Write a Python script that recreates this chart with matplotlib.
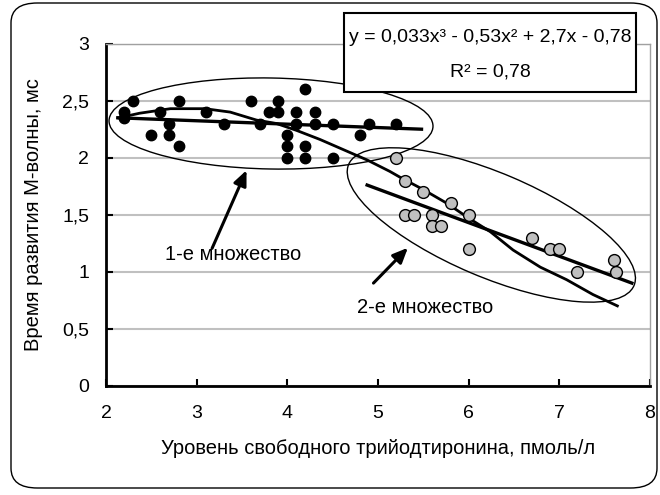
import matplotlib
matplotlib.use("Agg")
import matplotlib.pyplot as plt
from matplotlib.patches import Ellipse, FancyBboxPatch, Rectangle
from matplotlib.transforms import ScaledTranslation
from matplotlib.ticker import FuncFormatter

plt.rcParams['font.family'] = ['Liberation Sans', 'DejaVu Sans']

# Set 1 (black points)
set1_x = [2.2, 2.2, 2.3, 2.5, 2.6, 2.7, 2.7, 2.8, 2.8, 3.1, 3.3, 3.6, 3.7, 3.8, 3.9, 3.9,
          4.0, 4.0, 4.0, 4.1, 4.1, 4.2, 4.2, 4.2, 4.3, 4.3, 4.5, 4.5, 4.8, 4.9, 5.2]
set1_y = [2.4, 2.35, 2.5, 2.2, 2.4, 2.3, 2.2, 2.5, 2.1, 2.4, 2.3, 2.5, 2.3, 2.4, 2.5, 2.4,
          2.2, 2.1, 2.0, 2.4, 2.3, 2.6, 2.1, 2.0, 2.4, 2.3, 2.3, 2.0, 2.2, 2.3, 2.3]

# Set 2 (grey points)
set2_x = [5.2, 5.3, 5.5, 5.8, 6.0, 5.3, 5.4, 5.6, 5.6, 5.7, 6.0, 6.7, 6.9, 7.0, 7.2, 7.6, 7.63]
set2_y = [2.0, 1.8, 1.7, 1.6, 1.5, 1.5, 1.5, 1.5, 1.4, 1.4, 1.2, 1.3, 1.2, 1.2, 1.0, 1.1, 1.0]

# Cubic trend line over all points (as drawn)
trend_x = [2.14, 2.37, 2.71, 3.09, 3.37, 3.66, 3.88, 4.10, 4.36, 4.62, 4.88, 5.13, 5.24,
           5.50, 5.76, 6.00, 6.24, 6.49, 6.79, 7.08, 7.37, 7.64]
trend_y = [2.35, 2.39, 2.43, 2.43, 2.40, 2.33, 2.30, 2.24, 2.16, 2.07, 1.98, 1.88, 1.83,
           1.72, 1.60, 1.47, 1.35, 1.19, 1.04, 0.93, 0.80, 0.70]

# Linear trend lines for each set
lin1_x = [2.13, 5.48]
lin1_y = [2.35, 2.25]
lin2_x = [4.88, 7.80]
lin2_y = [1.76, 0.90]

x_ticks = [2, 3, 4, 5, 6, 7, 8]
y_ticks = [0, 0.5, 1, 1.5, 2, 2.5, 3]

equation = "y = 0,033x³ - 0,53x² + 2,7x - 0,78"
r2_text = "R² = 0,78"
xlabel = "Уровень свободного трийодтиронина, пмоль/л"
ylabel = "Время развития М-волны, мс"
label1 = "1-е множество"
label2 = "2-е множество"

fig = plt.figure(figsize=(6.6, 4.95), dpi=100)
fig.patch.set_facecolor('white')

# rounded figure border
border = FancyBboxPatch((11/660, 7/495), 646/660, 485/495,
                        boxstyle="round,pad=0,rounding_size=0.04",
                        transform=fig.transFigure, fill=False, ec='black', lw=1.0)
fig.patches.append(border)

ax = fig.add_axes([106/660, 1 - 385.7/495, 544/660, 342/495])
ax.set_xlim(2, 8)
ax.set_ylim(0, 3)
ax.set_xticks(x_ticks)
ax.set_yticks(y_ticks)
fmt = FuncFormatter(lambda v, p: ("%g" % v).replace('.', ','))
ax.yaxis.set_major_formatter(fmt)
ax.xaxis.set_major_formatter(fmt)
ax.grid(axis='y', color='#c0c0c0', lw=1.5)
ax.set_axisbelow(True)
for s in ['left', 'bottom']:
    ax.spines[s].set_linewidth(2)
    ax.spines[s].set_color('black')
for s in ['top', 'right']:
    ax.spines[s].set_linewidth(1)
    ax.spines[s].set_color('#a0a0a0')
ax.tick_params(axis='both', direction='in', length=5, width=1.5, labelsize=14)
ax.tick_params(axis='x', pad=14)
ax.tick_params(axis='y', pad=12)

ax.set_xlabel(xlabel, fontsize=14.5, labelpad=12)
ax.set_ylabel(ylabel, fontsize=14.5, labelpad=14)

# ellipses (drawn in pixel units around a data-space centre)
def px_ellipse(cx, cy, w_px, h_px, angle):
    tr = fig.dpi_scale_trans + ScaledTranslation(cx, cy, ax.transData)
    e = Ellipse((0, 0), w_px / 100, h_px / 100, angle=angle, transform=tr,
                fill=False, ec='black', lw=1.0, zorder=2)
    ax.add_patch(e)

px_ellipse(3.82, 2.30, 324, 91, -1)
px_ellipse(6.25, 1.41, 310, 104, -23)

ax.plot(trend_x, trend_y, color='black', lw=2.0, zorder=3)
ax.plot(lin1_x, lin1_y, color='black', lw=2.4, zorder=3)
ax.plot(lin2_x, lin2_y, color='black', lw=2.4, zorder=3)

ax.plot(set1_x, set1_y, 'o', color='black', ms=7.5, zorder=4, clip_on=False)
ax.plot(set2_x, set2_y, 'o', mfc='#c0c0c0', mec='black', mew=1.0, ms=8.5, zorder=4)

ax.annotate("", xy=(3.55, 1.89), xytext=(3.17, 1.205),
            arrowprops=dict(arrowstyle='-|>,head_length=0.5,head_width=0.22', lw=2.2,
                            color='black', mutation_scale=18, shrinkA=0, shrinkB=0))
ax.annotate("", xy=(5.33, 1.21), xytext=(4.95, 0.90),
            arrowprops=dict(arrowstyle='-|>,head_length=0.5,head_width=0.22', lw=2.2,
                            color='black', mutation_scale=18, shrinkA=0, shrinkB=0))

ax.text(2.65, 1.15, label1, fontsize=14.5, ha='left', va='center')
ax.text(4.77, 0.69, label2, fontsize=14.5, ha='left', va='center')

# equation box
box = Rectangle((344/660, 1 - 92/495), 292/660, 79/495, transform=fig.transFigure,
                fc='white', ec='black', lw=1.5, zorder=5)
fig.patches.append(box)
fig.text(490/660, 1 - 37/495, equation, fontsize=14, ha='center', va='center', zorder=6)
fig.text(490/660, 1 - 72/495, r2_text, fontsize=14, ha='center', va='center', zorder=6)

fig.savefig("out.png", dpi=100)
